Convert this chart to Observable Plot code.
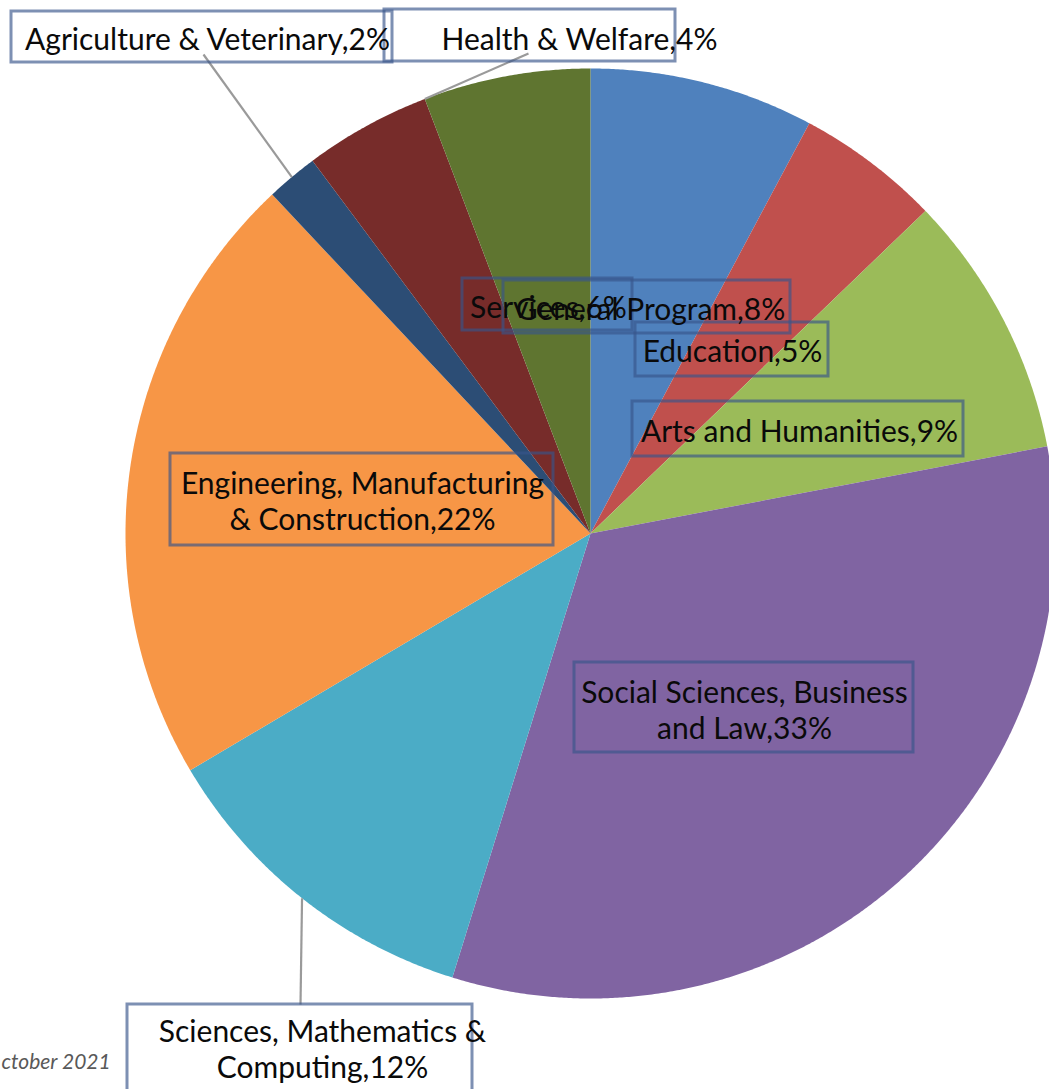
<!DOCTYPE html>
<html>
<head>
<meta charset="utf-8">
<script src="https://cdn.jsdelivr.net/npm/d3@7"></script>
<script src="https://cdn.jsdelivr.net/npm/@observablehq/plot@0.6"></script>
<style>
  html, body { margin: 0; padding: 0; background: #fff; overflow: hidden; }
  #chart svg { display: block; }
</style>
</head>
<body>
<div id="chart"></div>
<script>
// ---- data ----
const categories = [
  "General Program", "Education", "Arts and Humanities",
  "Social Sciences, Business and Law", "Sciences, Mathematics & Computing",
  "Engineering, Manufacturing & Construction", "Agriculture & Veterinary",
  "Health & Welfare", "Services"
];
const shares = [7.8, 5.0, 9.2, 32.8, 11.7, 21.5, 1.8, 4.4, 5.8];
const labelPct = [8, 5, 9, 33, 12, 22, 2, 4, 6];
const labelText = [
  "General Program", "Education", "Arts and Humanities",
  "Social Sciences, Business\nand Law", "Sciences, Mathematics &\nComputing",
  "Engineering, Manufacturing\n& Construction", "Agriculture & Veterinary",
  "Health & Welfare", "Services"
];
const colors = ["#4F81BD", "#C0504D", "#9BBB59", "#8064A2", "#4BACC6",
                "#F79646", "#2C4D75", "#772C2A", "#5F7530"];
const caption = "ctober 2021";

// ---- layout (pixels) ----
const W = 1049, H = 1089, CX = 590, CY = 533, R = 465;
const toX = px => (px - CX) / R;
const toY = py => (CY - py) / R;
// label text centre and box [x1, y1, x2, y2]
const labelLayout = {
  "Services": {c: [548, 306], box: [462, 278, 632, 330]},
  "General Program": {c: [650, 308], box: [503, 280, 790, 333]},
  "Education": {c: [732, 350], box: [635, 322, 828, 376]},
  "Arts and Humanities": {c: [799, 430], box: [632, 401, 963, 456]},
  "Engineering, Manufacturing & Construction": {c: [362, 500], box: [170, 453, 553, 545]},
  "Social Sciences, Business and Law": {c: [744, 709], box: [574, 662, 913, 752]},
  "Sciences, Mathematics & Computing": {c: [322, 1048], box: [127, 1004, 472, 1110]},
  "Agriculture & Veterinary": {c: [207, 38], box: [11, 11, 392, 62]},
  "Health & Welfare": {c: [579, 38], box: [384, 9, 675, 61]}
};
// leader lines: start point (px) and position along the slice (0..1) on the rim
const leaders = [
  {name: "Agriculture & Veterinary", from: [203, 54], frac: 0.5},
  {name: "Health & Welfare", from: [528, 53], frac: 1.0},
  {name: "Sciences, Mathematics & Computing", from: [300, 1004], frac: 0.5}
];

// ---- build geometry from data ----
const data = categories.map((name, i) => ({name, value: shares[i], pct: labelPct[i], text: labelText[i]}));
const arcs = d3.pie().sort(null).value(d => d.value).startAngle(0).endAngle(2 * Math.PI)(data);
const arcByName = new Map(arcs.map(a => [a.data.name, a]));

const polyPts = [];
for (const a of arcs) {
  const name = a.data.name;
  polyPts.push({name, x: 0, y: 0});
  const n = Math.max(4, Math.ceil((a.endAngle - a.startAngle) / 0.005));
  for (let k = 0; k <= n; k++) {
    const t = a.startAngle + (a.endAngle - a.startAngle) * k / n;
    polyPts.push({name, x: Math.sin(t), y: Math.cos(t)});
  }
  polyPts.push({name, x: 0, y: 0});
}

const labels = data.map(d => {
  const L = labelLayout[d.name];
  return {
    name: d.name,
    label: `${d.text},${d.pct}%`,
    x: toX(L.c[0]), y: toY(L.c[1]),
    x1: toX(L.box[0]), x2: toX(L.box[2]), y1: toY(L.box[3]), y2: toY(L.box[1])
  };
});
const drawOrder = ["Services", "General Program", "Education", "Arts and Humanities",
  "Social Sciences, Business and Law", "Sciences, Mathematics & Computing",
  "Engineering, Manufacturing & Construction", "Agriculture & Veterinary", "Health & Welfare"];
labels.sort((a, b) => drawOrder.indexOf(a.name) - drawOrder.indexOf(b.name));

const leaderLines = leaders.map(l => {
  const a = arcByName.get(l.name);
  const t = a.startAngle + (a.endAngle - a.startAngle) * l.frac;
  return {x1: toX(l.from[0]), y1: toY(l.from[1]), x2: Math.sin(t), y2: Math.cos(t)};
});

const chart = Plot.plot({
  width: W, height: H,
  margin: 0,
  style: {fontFamily: "Lato, 'Open Sans', sans-serif", background: "#fff"},
  x: {domain: [toX(0), toX(W)], range: [0, W], axis: null},
  y: {domain: [toY(H), toY(0)], range: [H, 0], axis: null},
  color: {domain: categories, range: colors},
  marks: [
    Plot.line(polyPts, {x: "x", y: "y", z: "name", fill: "name", stroke: "none", curve: "linear"}),
    Plot.link(leaderLines, {x1: "x1", y1: "y1", x2: "x2", y2: "y2", stroke: "#9a9a9a", strokeWidth: 2.2}),
    Plot.rect(labels, {x1: "x1", x2: "x2", y1: "y1", y2: "y2", fill: "none",
      stroke: "#37558a", strokeOpacity: 0.65, strokeWidth: 3}),
    Plot.text(labels, {x: "x", y: "y", text: "label", fill: "#0a0a0a", fontSize: 30,
      lineHeight: 1.2, textAnchor: "middle"}),
    Plot.text([caption], {x: toX(1), y: toY(1062), text: d => d, textAnchor: "start",
      fontStyle: "italic", fontSize: 21, fill: "#595959"})
  ]
});
document.getElementById("chart").appendChild(chart);
</script>
</body>
</html>
